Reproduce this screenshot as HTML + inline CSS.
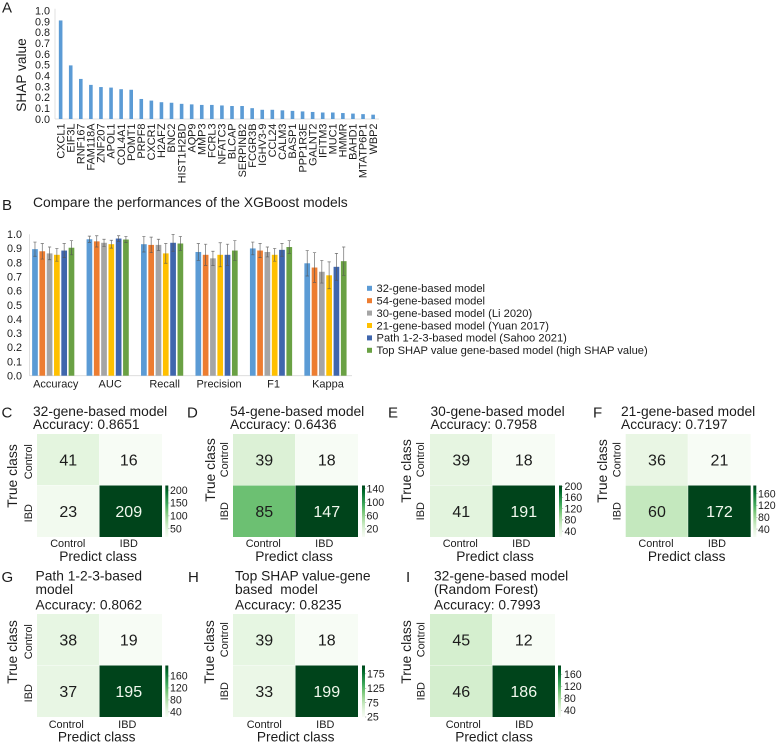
<!DOCTYPE html>
<html lang="en">
<head>
<meta charset="utf-8">
<title>Gene model SHAP and performance figure</title>
<style>
html,body{margin:0;padding:0;background:#fff;}
svg{display:block;filter:blur(.3px);}
text{font-family:"Liberation Sans",Arial,sans-serif;fill:#1c1c1c;}
.letter{font-size:15px;}
.ttl{font-size:13.8px;}
</style>
</head>
<body>
<svg id="fig" xmlns="http://www.w3.org/2000/svg" width="777" height="743" viewBox="0 0 777 743">
  <rect x="0" y="0" width="777" height="743" fill="#fff"/>
  <g>
    <text class="letter" x="2" y="12.5">A</text>
    <text class="letter" x="2" y="210">B</text>
    <text class="letter" x="1.5" y="417.3">C</text>
    <text class="letter" x="187" y="417.3">D</text>
    <text class="letter" x="388" y="417.3">E</text>
    <text class="letter" x="593" y="417.3">F</text>
    <text class="letter" x="1.5" y="582">G</text>
    <text class="letter" x="188" y="582">H</text>
    <text class="letter" x="406" y="582">I</text>
  </g>
  <text x="33" y="207" font-size="13.85">Compare the performances of the XGBoost models</text>
  <text transform="translate(26 75) rotate(-90)" text-anchor="middle" font-size="13.7">SHAP value</text>

  <g>
    <text class="ttl" x="33" y="416">32-gene-based model</text>
    <text class="ttl" x="33" y="429">Accuracy: 0.8651</text>
    <text class="ttl" x="230" y="416">54-gene-based model</text>
    <text class="ttl" x="230" y="429">Accuracy: 0.6436</text>
    <text class="ttl" x="430.5" y="416">30-gene-based model</text>
    <text class="ttl" x="430.5" y="429">Accuracy: 0.7958</text>
    <text class="ttl" x="621" y="416">21-gene-based model</text>
    <text class="ttl" x="621" y="429">Accuracy: 0.7197</text>
    <text class="ttl" x="35.5" y="580.5">Path 1-2-3-based</text>
    <text class="ttl" x="35.5" y="594">model</text>
    <text class="ttl" x="35.5" y="609.5">Accuracy: 0.8062</text>
    <text class="ttl" x="235" y="580.5">Top SHAP value-gene</text>
    <text class="ttl" x="235" y="594" xml:space="preserve">based  model</text>
    <text class="ttl" x="235" y="609.5">Accuracy: 0.8235</text>
    <text class="ttl" x="434" y="580.5">32-gene-based model</text>
    <text class="ttl" x="434" y="594">(Random Forest)</text>
    <text class="ttl" x="434" y="609.5">Accuracy: 0.7993</text>
  </g>
</svg>
<script>
/* ---------- Chart A data ---------- */
const geneNames = ["CXCL1","EIF3L","RNF167","FAM118A","ZNF207","APOL1","COL4A1","POMT1","PRPF8","CXCR1","H2AFZ","BNC2","HIST1H2BD","AQP9","MMP3","FCRL3","NFATC3","BLCAP","SERPINB2","FCGR3B","IGHV3-9","CCL24","CALM3","BASP1","PPP1R3E","GALNT2","IFITM3","MUC1","HMMR","BAHD1","MTATP6P1","WBP2"];
const shapValues = [0.91,0.495,0.37,0.315,0.295,0.29,0.275,0.27,0.185,0.17,0.155,0.15,0.14,0.135,0.13,0.13,0.125,0.12,0.12,0.1,0.085,0.085,0.08,0.075,0.07,0.065,0.06,0.06,0.055,0.05,0.045,0.04];
const shapTicks = [0,0.1,0.2,0.3,0.4,0.5,0.6,0.7,0.8,0.9,1.0];

/* ---------- Chart B data ---------- */
const metricNames = ["Accuracy","AUC","Recall","Precision","F1","Kappa"];
const modelNames = ["32-gene-based model","54-gene-based model","30-gene-based model (Li 2020)","21-gene-based model (Yuan 2017)","Path 1-2-3-based model (Sahoo 2021)","Top SHAP value gene-based model (high SHAP value)"];
const model32Values = [0.895,0.965,0.93,0.875,0.90,0.795];
const model54Values = [0.88,0.95,0.925,0.855,0.885,0.765];
const model30Values = [0.865,0.94,0.925,0.83,0.875,0.735];
const model21Values = [0.855,0.93,0.865,0.855,0.855,0.71];
const modelPathValues = [0.885,0.97,0.94,0.855,0.89,0.77];
const modelTopValues = [0.905,0.963,0.935,0.885,0.91,0.81];
const model32Errors = [0.05,0.022,0.055,0.06,0.045,0.09];
const model54Errors = [0.055,0.04,0.055,0.075,0.05,0.105];
const model30Errors = [0.045,0.025,0.04,0.05,0.035,0.08];
const model21Errors = [0.045,0.028,0.07,0.085,0.045,0.095];
const modelPathErrors = [0.05,0.02,0.06,0.075,0.045,0.095];
const modelTopErrors = [0.05,0.022,0.05,0.07,0.045,0.10];
const performanceTicks = [0,0.1,0.2,0.3,0.4,0.5,0.6,0.7,0.8,0.9,1.0];

/* ---------- Confusion matrix data ---------- */
const heatmapClasses = ["Control","IBD"];
const matrixC = [[41,16],[23,209]];
const matrixD = [[39,18],[85,147]];
const matrixE = [[39,18],[41,191]];
const matrixF = [[36,21],[60,172]];
const matrixG = [[38,19],[37,195]];
const matrixH = [[39,18],[33,199]];
const matrixI = [[45,12],[46,186]];
const colorbarTicksC = [50,100,150,200];
const colorbarTicksD = [20,60,100,140];
const colorbarTicksE = [40,80,120,160,200];
const colorbarTicksF = [40,80,120,160];
const colorbarTicksG = [40,80,120,160];
const colorbarTicksH = [25,75,125,175];
const colorbarTicksI = [40,80,120,160];

/* ---------- helpers ---------- */
const SVG_NS = "http://www.w3.org/2000/svg";
const fig = document.getElementById("fig");
function make(tag, attrs, parent, txt) {
  const el = document.createElementNS(SVG_NS, tag);
  for (const k in attrs) el.setAttribute(k, attrs[k]);
  if (txt !== undefined) el.textContent = txt;
  (parent || fig).appendChild(el);
  return el;
}
function linear(d0, d1, r0, r1) {
  return v => r0 + (v - d0) / (d1 - d0) * (r1 - r0);
}
const greenStops = ["#f7fcf5","#e5f5e0","#c7e9c0","#a1d99b","#74c476","#41ab5d","#238b45","#006d2c","#00441b"];
function greens(t) {
  t = Math.max(0, Math.min(1, t)) * (greenStops.length - 1);
  const i = Math.min(greenStops.length - 2, Math.floor(t));
  const f = t - i;
  const a = greenStops[i], b = greenStops[i + 1];
  const ch = s => [1, 3, 5].map(p => parseInt(s.substr(p, 2), 16));
  const ca = ch(a), cb = ch(b);
  return "rgb(" + ca.map((c, j) => Math.round(c + (cb[j] - c) * f)).join(",") + ")";
}

/* ---------- Chart A ---------- */
(function drawChartA() {
  const g = make("g", {});
  
  
  const y = linear(0, 1, 119, 10.7);
  const left = 55.6, step = 10.08;
  const x = i => left + step * (i + 0.5);
  const yAxis = make("line", {x1: 55, x2: 55, y1: y(1) - 2, y2: y(0), stroke: "#d9d9d9", "stroke-width": 0.8}, g);
  
  
  const xAxis = make("line", {x1: 55, x2: 379, y1: y(0), y2: y(0), stroke: "#d9d9d9", "stroke-width": 0.8}, g);
  
  
  shapTicks.forEach(t => {
    const lab = make("text", {x: 50, y: y(t) + 3.8, "text-anchor": "end", "font-size": 10.8}, g, t.toFixed(1));
    
    
  });
  shapValues.forEach((v, i) => {
    const bar = make("rect", {x: x(i) - 1.8, y: y(v), width: 3.6, height: y(0) - y(v), fill: "#5b9bd5"}, g);
    
    
  });
  geneNames.forEach((n, i) => {
    const px = x(i) + 3.7, py = 123.5;
    const lab = make("text", {transform: "translate(" + px + " " + py + ") rotate(-90)", "text-anchor": "end", "font-size": 10.9}, g, n);
    
    
  });
})();

/* ---------- Chart B ---------- */
(function drawChartB() {
  const g = make("g", {});
  
  
  const seriesValues = [model32Values, model54Values, model30Values, model21Values, modelPathValues, modelTopValues];
  const seriesErrors = [model32Errors, model54Errors, model30Errors, model21Errors, modelPathErrors, modelTopErrors];
  const colors = ["#5b9bd5","#ed7d31","#a5a5a5","#ffc000","#3f66ad","#6aa144"];
  const y = linear(0, 1, 375.7, 234.3);
  const left = 26, band = 54.45, bw = 7.3;
  const groupCenter = i => left + band * (i + 0.5);
  const yAxis = make("line", {x1: 29.5, x2: 29.5, y1: y(1), y2: y(0), stroke: "#d9d9d9", "stroke-width": 0.8}, g);
  
  
  const xAxis = make("line", {x1: 29.5, x2: 352, y1: y(0), y2: y(0), stroke: "#d9d9d9", "stroke-width": 0.8}, g);
  
  
  performanceTicks.forEach(t => {
    const lab = make("text", {x: 22, y: y(t) + 3.8, "text-anchor": "end", "font-size": 10.8}, g, t.toFixed(1));
    
    
  });
  metricNames.forEach((m, i) => {
    const lab = make("text", {x: groupCenter(i) + 2.5, y: 387.5, "text-anchor": "middle", "font-size": 11}, g, m);
    
    
    seriesValues.forEach((vals, s) => {
      const cx = groupCenter(i) + (s - 2.5) * bw;
      const v = vals[i], e = seriesErrors[s][i];
      const bar = make("rect", {x: cx - 2.85, y: y(v), width: 5.7, height: y(0) - y(v), fill: colors[s]}, g);
      
      
      const stem = make("path", {
        d: "M" + cx + " " + y(v + e) + "V" + y(v - e) +
           "M" + (cx - 1.6) + " " + y(v + e) + "H" + (cx + 1.6) +
           "M" + (cx - 1.6) + " " + y(v - e) + "H" + (cx + 1.6),
        stroke: "#555", "stroke-width": 0.7, fill: "none", opacity: 0.85
      }, g);
      
      
    });
  });
  const legend = make("g", {}, g);
  
  
  modelNames.forEach((n, i) => {
    const ly = 288.3 + i * 12.4;
    const sw = make("rect", {x: 367, y: ly - 2.5, width: 5, height: 5, fill: colors[i]}, legend);
    
    
    const lab = make("text", {x: 376.5, y: ly + 3.8, "font-size": 11.17}, legend, n);
    
    
  });
})();

/* ---------- Heatmaps ---------- */
const heatmapLayouts = [
  {id:"c", matrix:matrixC, ticks:colorbarTicksC, x:37,    y:434, barX:165.3, labX:170,   lo:18,   hi:218, trueX:17,  trueY:476, ctrlX:32,  ctrlDy:2,  xLabDx:-0.5, predX:98,    tickY:547, predY:561, shift:-2},
  {id:"d", matrix:matrixD, ticks:colorbarTicksD, x:233,   y:434, barX:362,   labX:366.5, lo:-4,   hi:150, trueX:215, trueY:470, ctrlX:228, ctrlDy:0,  xLabDx:-1,   predX:294,   tickY:547, predY:561, shift:0},
  {id:"e", matrix:matrixE, ticks:colorbarTicksE, x:430,   y:434, barX:559,   labX:564.5, lo:19,   hi:203, trueX:411, trueY:471, ctrlX:424, ctrlDy:0,  xLabDx:-1,   predX:495,   tickY:547, predY:561, shift:0},
  {id:"f", matrix:matrixF, ticks:colorbarTicksF, x:625.7, y:434, barX:753.3, labX:758,   lo:13,   hi:188, trueX:607, trueY:471, ctrlX:620.7,ctrlDy:0, xLabDx:-1,   predX:686.7, tickY:547, predY:561, shift:0},
  {id:"g", matrix:matrixG, ticks:colorbarTicksG, x:37,    y:614, barX:165.3, labX:170,   lo:23,   hi:195, trueX:17,  trueY:652, ctrlX:32,  ctrlDy:2,  xLabDx:-2,   predX:96.7,  tickY:728, predY:741.5, shift:-2},
  {id:"h", matrix:matrixH, ticks:colorbarTicksH, x:233,   y:614, barX:362,   labX:367,   lo:25,   hi:204, trueX:214, trueY:652, ctrlX:228, ctrlDy:0,  xLabDx:0,    predX:295.7, tickY:728, predY:741.5, shift:0},
  {id:"i", matrix:matrixI, ticks:colorbarTicksI, x:430,   y:614, barX:558,   labX:564,   lo:17.5, hi:189, trueX:411, trueY:652, ctrlX:424.7,ctrlDy:0, xLabDx:2,    predX:494,   tickY:728, predY:741.5, shift:0}
];
const defs = make("defs", {});
heatmapLayouts.forEach(p => {
  const W = 125, H = 103;
  const g = make("g", {});
  
  
  const flat = p.matrix[0].concat(p.matrix[1]);
  const vmin = Math.min.apply(null, flat), vmax = Math.max.apply(null, flat);
  const norm = v => (v - vmin) / (vmax - vmin);
  const cellW = W / 2, cellH = H / 2;
  p.matrix.forEach((row, r) => row.forEach((v, c) => {
    const cell = make("rect", {x: p.x + c * cellW, y: p.y + r * cellH, width: cellW - (c === 0 ? 0.4 : 0), height: cellH - (r === 0 ? 0.4 : 0), fill: greens(norm(v))}, g);
    
    
    const ann = make("text", {x: p.x + (c + 0.5) * cellW + (c === 1 ? p.shift : 0), y: p.y + (r + 0.5) * cellH + 5.6, "text-anchor": "middle", "font-size": 16, style: "fill:" + (norm(v) > 0.6 ? "#f2f9ef" : "#1c1c1c")}, g, String(v));
    
    
  }));
  heatmapClasses.forEach((n, i) => {
    const xl = make("text", {x: p.x + (i + 0.5) * cellW + p.xLabDx - (i === 1 ? 1.5 : 0), y: p.tickY, "text-anchor": "middle", "font-size": 10.9}, g, n);
    
    
    const cy = p.y + (i + 0.5) * cellH + p.ctrlDy;
    const yl = make("text", {transform: "translate(" + p.ctrlX + " " + cy + ") rotate(-90)", "text-anchor": "middle", "font-size": 10.9}, g, n);
    
    
  });
  const xt = make("text", {x: p.predX, y: p.predY, "text-anchor": "middle", "font-size": 13.7}, g, "Predict class");
  
  
  const yt = make("text", {transform: "translate(" + p.trueX + " " + p.trueY + ") rotate(-90)", "text-anchor": "middle", "font-size": 13.9}, g, "True class");
  
  

  const grad = make("linearGradient", {id: "cbar-" + p.id, x1: 0, y1: 1, x2: 0, y2: 0}, defs);
  greenStops.forEach((col, i) => make("stop", {offset: i / (greenStops.length - 1), "stop-color": col}, grad));
  const barTop = p.y + cellH, barBottom = p.y + H;
  const bar = make("rect", {x: p.barX, y: barTop, width: 3, height: barBottom - barTop, fill: "url(#cbar-" + p.id + ")"}, g);
  
  
  const sy = linear(p.lo, p.hi, barBottom, barTop);
  p.ticks.forEach(t => {
    const tick = make("line", {x1: p.barX + 3, x2: p.barX + 4.2, y1: sy(t), y2: sy(t), stroke: "#888", "stroke-width": 0.5}, g);
    
    
    const lab = make("text", {x: p.labX, y: sy(t) + 3.7, "font-size": 10.6}, g, String(t));
    
    
  });
});
</script>
</body>
</html>
